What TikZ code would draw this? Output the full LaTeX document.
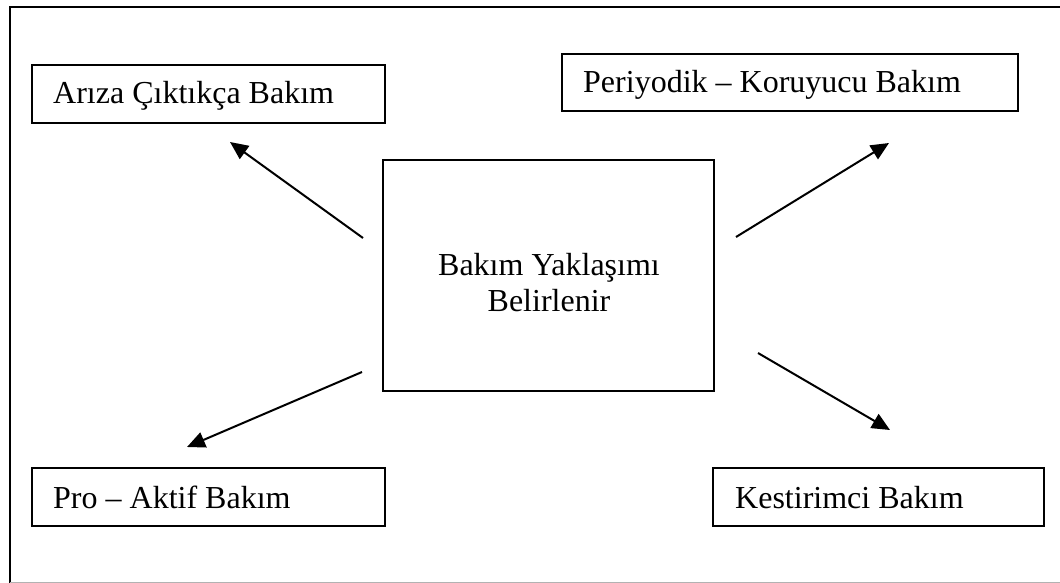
\documentclass[tikz,border=0pt]{standalone}
\usepackage{fontspec}
\setmainfont{Liberation Serif}
\usetikzlibrary{arrows.meta}
\begin{document}
\begin{tikzpicture}[x=1pt,y=-1pt,
  box/.style={draw, line width=2pt, inner sep=0pt},
  lbl/.style={inner sep=0pt, font=\fontsize{32}{38}\selectfont},
  conn/.style={line width=2pt, -{Triangle[length=18pt,width=16pt]}}]
\useasboundingbox (0,0) rectangle (1060,583);
% outer frame
\draw[line width=2pt] (1060,7) -- (10,7) -- (10,583);
\draw[line width=1pt, gray!60] (10,582) -- (1060,582);
% boxes
\node[box, minimum width=353pt, minimum height=58pt] (ariza) at (208.5,94) {};
\node[box, minimum width=456pt, minimum height=57pt] (periyodik) at (790,82.5) {};
\node[box, minimum width=353pt, minimum height=58pt] (pro) at (208.5,497) {};
\node[box, minimum width=331pt, minimum height=58pt] (kestir) at (878.5,497) {};
\node[box, minimum width=331pt, minimum height=231pt] (center) at (548.5,275.5) {};
% texts
\node[lbl, anchor=base west] (tariza) at (53,104) {Arıza Çıktıkça Bakım};
\node[lbl, anchor=base west] (tper) at (583,93) {Periyodik – Koruyucu Bakım};
\node[lbl, anchor=base west] (tpro) at (53,508) {Pro – Aktif Bakım};
\node[lbl, anchor=base west] (tkes) at (735,508) {Kestirimci Bakım};
\node[lbl, anchor=base] (tc1) at (549,275) {Bakım Yaklaşımı};
\node[lbl, anchor=base] (tc2) at (549,311) {Belirlenir};
% arrow ends
\coordinate (s1) at (363,238); \coordinate (e1) at (230,142);
\coordinate (s2) at (736,237); \coordinate (e2) at (889,143);
\coordinate (s3) at (362,372); \coordinate (e3) at (187,447);
\coordinate (s4) at (758,353); \coordinate (e4) at (890,430);
\draw[conn] (s1) -- (e1);
\draw[conn] (s2) -- (e2);
\draw[conn] (s3) -- (e3);
\draw[conn] (s4) -- (e4);
\end{tikzpicture}
\end{document}
